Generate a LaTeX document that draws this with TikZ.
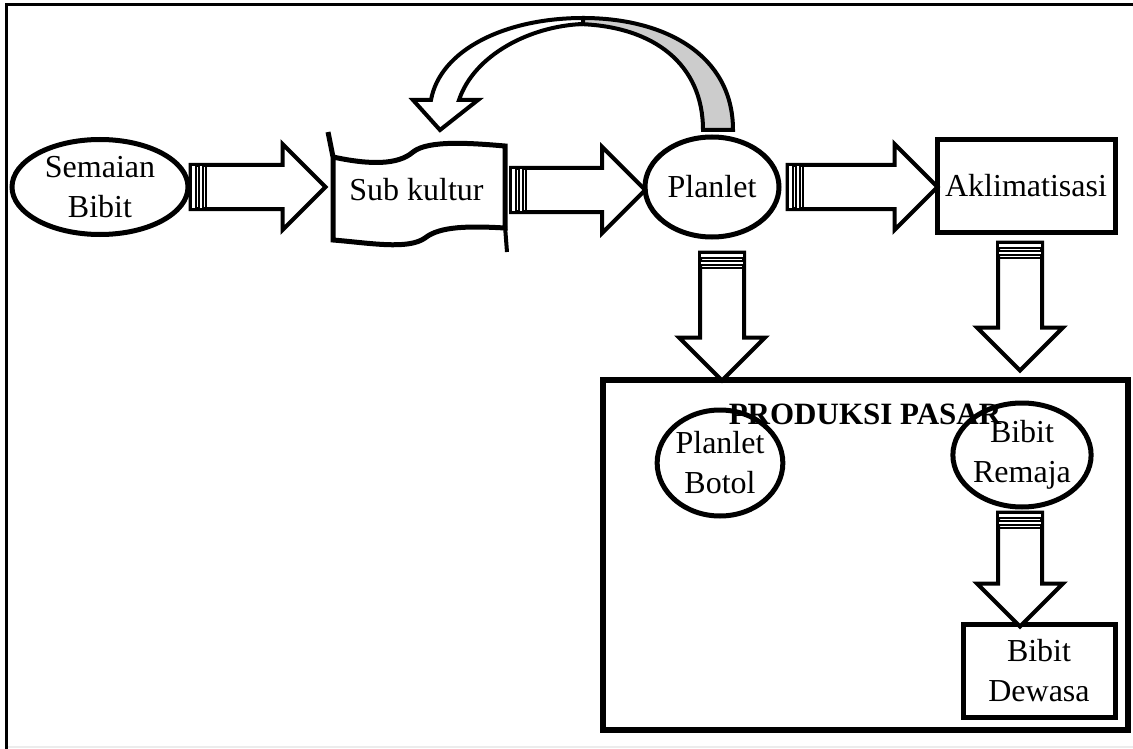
\documentclass[tikz,border=0pt]{standalone}
\usepackage{fontspec}
\setmainfont{Liberation Serif}
\usetikzlibrary{shapes.geometric,positioning,calc}

\tikzset{%
  % Specifications for style of nodes:
         base/.style = {font=\fontsize{32}{40}\selectfont, align=center,
                        inner sep=0pt},
         oval/.style = {base, ellipse, draw=black, line width=5pt, fill=white},
          box/.style = {base, rectangle, draw=black, line width=5pt},
    arrowline/.style = {draw=black, fill=white, line width=4pt,
                        line join=miter},
   stripeline/.style = {draw=black, fill=white, line width=2pt},
  % striped block arrow, drawn along +x from its tail
  pics/stripearrow/.style = {code={
      \draw[arrowline] (0,-22) -- (#1-43,-22) -- (#1-43,-43) -- (#1,0)
          -- (#1-43,43) -- (#1-43,22) -- (0,22) -- cycle;
      \draw[stripeline] (0,-22) rectangle (5,22);
      \draw[stripeline] (8,-22) rectangle (12,22);
      \draw[line width=2pt] (15,-22) -- (15,22);
  }},
}

\begin{document}
\begin{tikzpicture}[x=1pt, y=-1pt]
  \useasboundingbox (0,0) rectangle (1133,749);
  % frame
  \draw[line width=3pt] (6,749) -- (6,5) -- (1133,5);
  \draw[gray!15, line width=1.5pt] (8,747) -- (1133,747);

  % Specification of nodes (position, etc.)
  \node (semaian) [oval, minimum width=176, minimum height=95] at (100,187) {Semaian\\Bibit};
  \node (sub)     [base, minimum width=177, minimum height=95] at (416.5,190) {Sub kultur};
  \node (planlet) [oval, minimum width=134, minimum height=100] at (712,187) {Planlet};
  \node (aklim)   [box, minimum width=178, minimum height=92] at (1026,186) {Aklimatisasi};
  \node (pasar)   [box, line width=6pt, minimum width=525, minimum height=350] at (865.5,555) {};
  \node (botol)   [oval, minimum width=124, minimum height=106] at (720,463) {Planlet\\Botol};
  \node (remaja)  [oval, minimum width=124, minimum height=104] at (1022,455) {Bibit\\Remaja};
  \node (dewasa)  [box, minimum width=152, minimum height=93] at (1039,671) {Bibit\\Dewasa};
  \node (judul)   [base, font=\fontsize{31}{40}\selectfont\bfseries] at (865,414) {PRODUKSI PASAR};

  % wave outline of sub kultur
  \draw[line width=5pt, line join=miter]
    (328,132) -- (333,157) .. controls (370,165) and (398,165) .. (413,152)
    .. controls (428,140) and (470,143) .. (505,146) -- (505,228)
    .. controls (470,226) and (440,226) .. (425,238)
    .. controls (408,250) and (370,243) .. (333,240) -- (333,157);
  \draw[line width=4pt] (505,226) -- (507,252);

  % block arrows between the nodes
  \pic at (semaian.east) {stripearrow=135};
  \pic at ([xshift=6]sub.east) {stripearrow=134};
  \pic at ([xshift=6]planlet.east) {stripearrow=150};
  \pic[rotate=-90] at ($(planlet.south)+(10,13)$) {stripearrow=128};
  \pic[rotate=-90] at ($(aklim.south)+(-6,8)$) {stripearrow=128};
  \pic[rotate=-90] at ($(remaja.south)+(-2,3)$) {stripearrow=114};

  % curved arrow from planlet back to sub kultur
  \draw[arrowline, fill=gray!40]
    (733,130) .. controls (733,55) and (665,18) .. (583,18) -- (578,24)
    .. controls (655,26) and (703,65) .. (703,130) -- cycle;
  \draw[arrowline]
    (583,18) .. controls (505,18) and (440,50) .. (431,100) -- (413,100)
    -- (440,130) -- (478,100) -- (459,100)
    .. controls (474,55) and (530,26) .. (583,24) -- cycle;
\end{tikzpicture}
\end{document}
